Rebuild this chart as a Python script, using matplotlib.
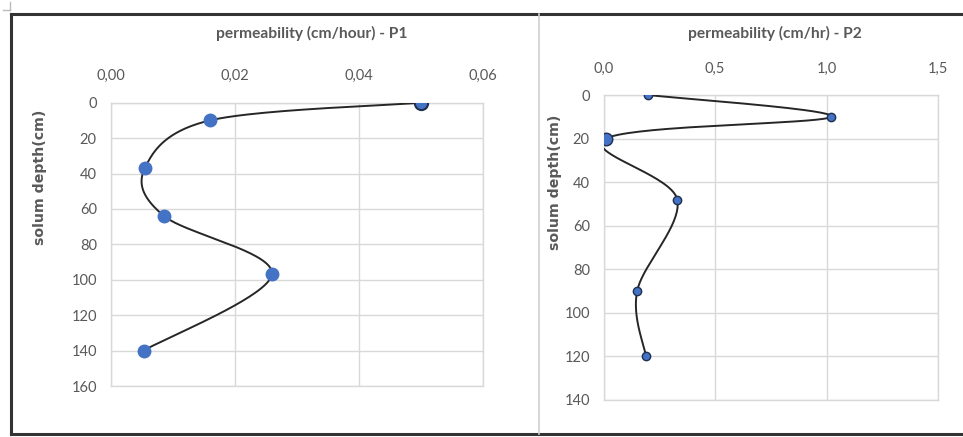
import numpy as np
import matplotlib
matplotlib.use("Agg")
import matplotlib.pyplot as plt
from matplotlib.ticker import FuncFormatter, MultipleLocator
from matplotlib.lines import Line2D

# ---- data ----
p1_perm = [0.050, 0.016, 0.0055, 0.0086, 0.026, 0.0053]
p1_depth = [0, 10, 37, 64, 97, 140]
p2_perm = [0.20, 1.02, 0.01, 0.33, 0.15, 0.19]
p2_depth = [0, 10, 20, 48, 90, 120]

p1_title = "permeability (cm/hour) - P1"
p2_title = "permeability (cm/hr) - P2"
ylabel = "solum depth(cm)"

W, H = 963, 437
fig = plt.figure(figsize=(W / 100, H / 100), dpi=100)
plt.rcParams['font.family'] = ['Lato', 'DejaVu Sans']

TXT = '#595959'
GRID = '#D9D9D9'
BLUE = '#4472C4'


def px_axes(x0, y0, x1, y1):
    return fig.add_axes([x0 / W, 1 - y1 / H, (x1 - x0) / W, (y1 - y0) / H])


def smooth(ax, xs, ys, n=40):
    pts = ax.transData.transform(np.column_stack([xs, ys]))
    P = np.vstack([pts[0], pts, pts[-1]])
    out = []
    for i in range(1, len(P) - 2):
        p0, p1, p2, p3 = P[i - 1], P[i], P[i + 1], P[i + 2]
        c1 = p1 + (p2 - p0) / 6.0
        c2 = p2 - (p3 - p1) / 6.0
        t = np.linspace(0, 1, n)[:, None]
        seg = ((1 - t) ** 3) * p1 + 3 * ((1 - t) ** 2) * t * c1 + 3 * (1 - t) * t ** 2 * c2 + t ** 3 * p2
        out.append(seg)
    curve = np.vstack(out)
    data = ax.transData.inverted().transform(curve)
    ax.plot(data[:, 0], data[:, 1], color='#262626', lw=1.4, zorder=3)


def style(ax, xmax, xstep, ymax, fmt):
    ax.set_xlim(0, xmax)
    ax.set_ylim(ymax, 0)
    ax.xaxis.set_major_locator(MultipleLocator(xstep))
    ax.yaxis.set_major_locator(MultipleLocator(20))
    ax.xaxis.set_major_formatter(FuncFormatter(lambda v, p: fmt.format(v).replace('.', ',')))
    ax.xaxis.tick_top()
    ax.grid(True, color=GRID, lw=1.0)
    ax.set_axisbelow(True)
    for s in ax.spines.values():
        s.set_color(GRID)
        s.set_linewidth(1.0)
    ax.tick_params(length=0, colors=TXT, labelsize=10.5)
    ax.tick_params(axis='x', pad=14)
    ax.tick_params(axis='y', pad=10)


# ---- left chart ----
ax1 = px_axes(110.7, 102.7, 482.7, 386)
style(ax1, 0.06, 0.02, 160, "{:.2f}")
smooth(ax1, p1_perm, p1_depth)
ax1.plot(p1_perm[1:], p1_depth[1:], 'o', color=BLUE, ms=9, mec=BLUE, zorder=4)
ax1.plot(p1_perm[:1], p1_depth[:1], 'o', color=BLUE, ms=9.5, mec='#1F2F4F', mew=1.5, zorder=4)

# ---- right chart ----
ax2 = px_axes(603.7, 95, 938, 400)
style(ax2, 1.5, 0.5, 140, "{:.1f}")
smooth(ax2, p2_perm, p2_depth)
sizes = [6, 6, 9, 6, 6, 6]
for x, y, s in zip(p2_perm, p2_depth, sizes):
    ax2.plot([x], [y], 'o', color=BLUE, ms=s, mec='#1F2F4F', mew=1.0, zorder=4)

# ---- titles and labels ----
fig.text(312 / W, 1 - 33 / H, p1_title, ha='center', va='center', color=TXT,
         fontsize=11.2, fontweight='bold')
fig.text(775 / W, 1 - 33 / H, p2_title, ha='center', va='center', color=TXT,
         fontsize=11.2, fontweight='bold')
fig.text(40 / W, 1 - 177 / H, ylabel, ha='center', va='center', rotation=90,
         color=TXT, fontsize=10.2, fontweight='bold', family='DejaVu Sans')
fig.text(555 / W, 1 - 182 / H, ylabel, ha='center', va='center', rotation=90,
         color=TXT, fontsize=10.2, fontweight='bold', family='DejaVu Sans')

# ---- frame lines ----
def fline(xs, ys, **kw):
    fig.add_artist(Line2D([x / W for x in xs], [1 - y / H for y in ys], **kw))

fline([11, 963], [14, 14], color='#333333', lw=2.2)
fline([11, 963], [434, 434], color='#333333', lw=2.2)
fline([11, 11], [14, 434], color='#333333', lw=2.2)
fline([539, 539], [14, 434], color='#CFCFCF', lw=1.2)
fline([3, 10], [10, 10], color='#BBBBBB', lw=1)
fline([10, 10], [2, 10], color='#BBBBBB', lw=1)

fig.savefig("out.png", dpi=100)
